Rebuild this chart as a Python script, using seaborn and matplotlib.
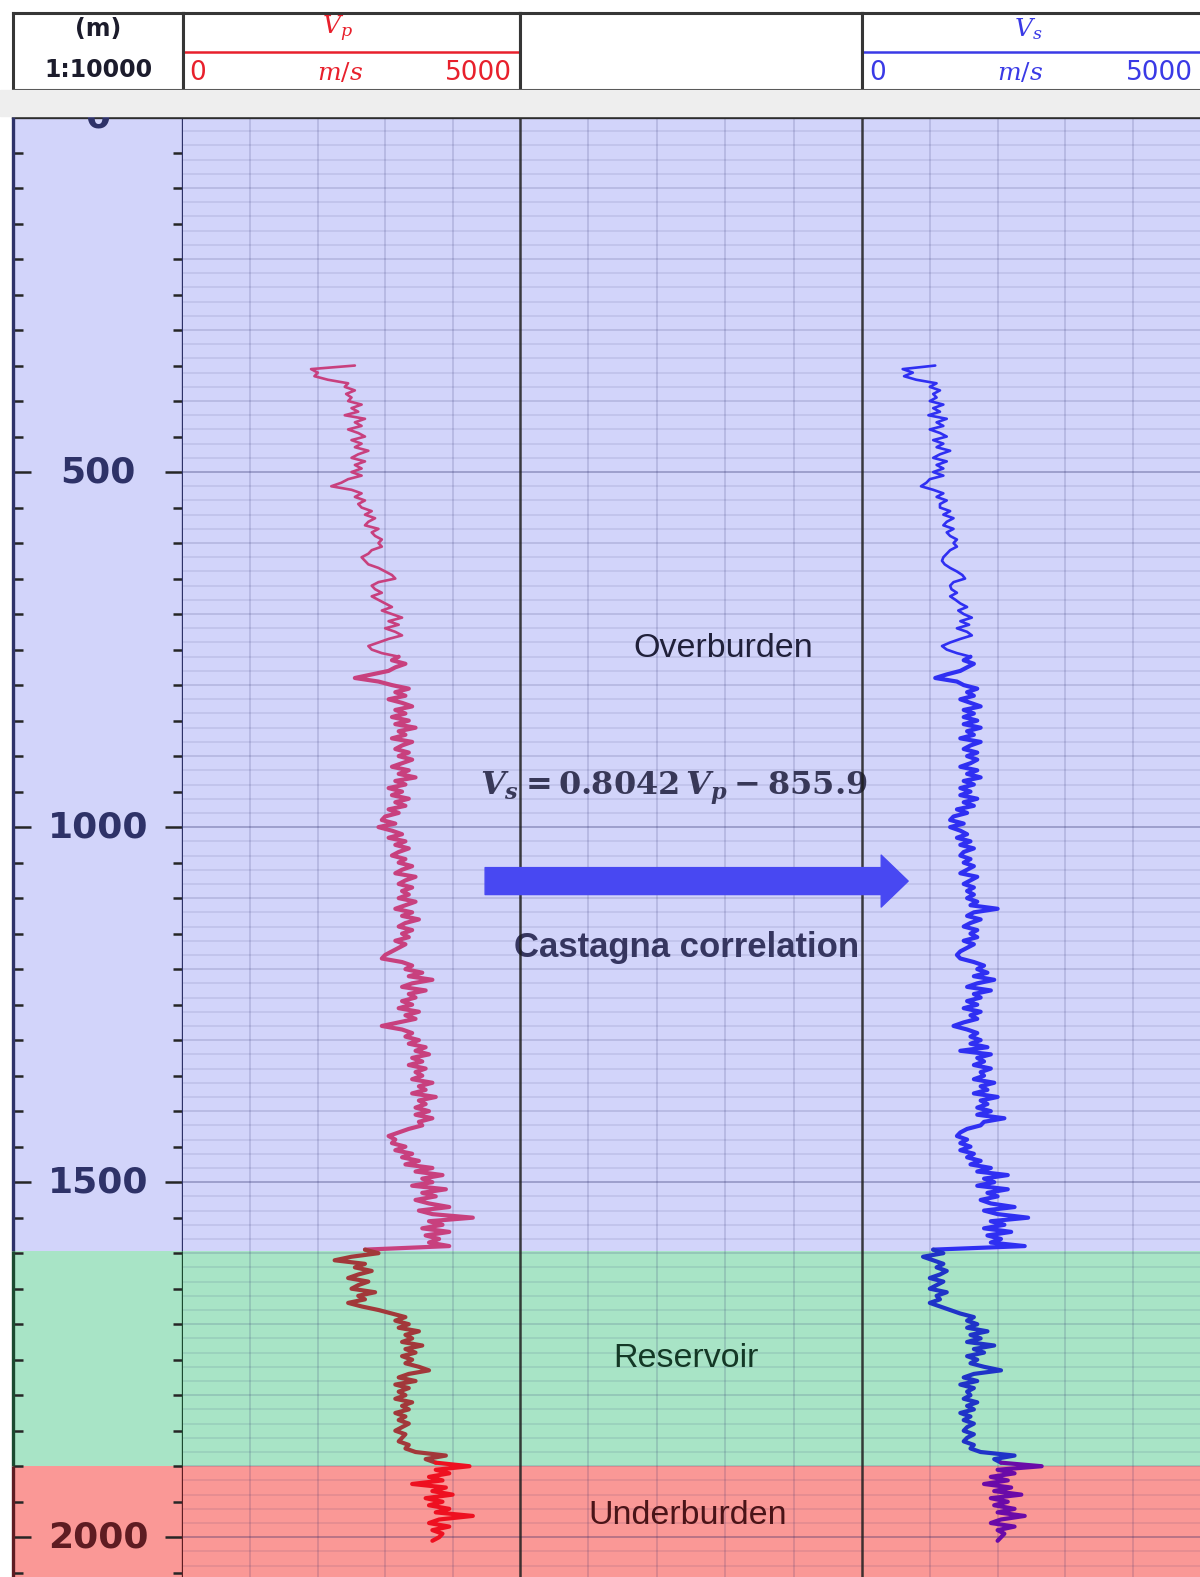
import numpy as np
import pandas as pd
import matplotlib.pyplot as plt
import seaborn as sns

sns.set_style("white")
plt.rcParams["font.family"] = ["DejaVu Sans"]
plt.rcParams["mathtext.fontset"] = "custom"
plt.rcParams["mathtext.rm"] = "DejaVu Serif:bold"
plt.rcParams["mathtext.it"] = "DejaVu Serif:italic:bold"
plt.rcParams["mathtext.bf"] = "DejaVu Serif:bold"

# Vp log (m/s), one sample every 5 m starting at 350 m
vp = [
    2550, 1900, 2000, 1950, 2150, 2450, 2400, 2550, 2420, 2500,
    2450, 2650, 2500, 2600, 2400, 2700, 2550, 2650, 2450, 2600,
    2700, 2500, 2650, 2550, 2750, 2600, 2500, 2700, 2550, 2650,
    2500, 2650, 2450, 2350, 2200, 2500, 2650, 2550, 2700, 2600,
    2650, 2800, 2700, 2850, 2750, 2700, 2900, 2800, 2850, 2950,
    2900, 2950, 2800, 2750, 2650, 2700, 2750, 2900, 3000, 3100,
    3150, 2900, 2800, 2850, 2950, 2800, 2900, 3000, 3100, 2950,
    3100, 3250, 3050, 3200, 3000, 3150, 3250, 3050, 2900, 2750,
    2800, 2950, 3200, 3100, 3300, 3150, 3050, 2800, 2550, 2900,
    3100, 3350, 3150, 3300, 3050, 3250, 3400, 3150, 3300, 3100,
    3350, 3150, 3450, 3200, 3300, 3100, 3400, 3250, 3150, 3350,
    3200, 3400, 3250, 3100, 3350, 3200, 3450, 3150, 3300, 3050,
    3250, 3100, 3350, 3150, 3300, 3050, 3200, 3000, 2950, 3150,
    2900, 3100, 3250, 3050, 3300, 3150, 3350, 3200, 3100, 3300,
    3200, 3400, 3250, 3150, 3450, 3300, 3200, 3400, 3250, 3350,
    3200, 3450, 3300, 3150, 3400, 3250, 3500, 3300, 3200, 3400,
    3250, 3350, 3150, 3300, 3200, 3100, 3000, 2950, 3250, 3400,
    3300, 3550, 3350, 3700, 3400, 3250, 3600, 3350, 3450, 3250,
    3400, 3200, 3500, 3300, 3450, 3200, 2950, 3250, 3400, 3300,
    3500, 3350, 3600, 3450, 3650, 3400, 3550, 3350, 3600, 3450,
    3550, 3400, 3700, 3500, 3600, 3400, 3750, 3500, 3600, 3450,
    3650, 3450, 3700, 3500, 3550, 3350, 3200, 3050, 3150, 3100,
    3300, 3150, 3400, 3250, 3500, 3300, 3700, 3450, 3850, 3550,
    3700, 3400, 3900, 3550, 3750, 3450, 3650, 3950, 3500, 3700,
    4300, 3650, 3850, 3550, 3950, 3600, 3800, 3650, 3950, 2700,
    2900, 2500, 2250, 2700, 2550, 2800, 2600, 2450, 2750, 2600,
    2500, 2850, 2600, 2700, 2450, 2650, 2900, 3100, 3300, 3150,
    3350, 3200, 3500, 3300, 3400, 3250, 3550, 3300, 3450, 3250,
    3400, 3300, 3500, 3650, 3350, 3200, 3450, 3150, 3350, 3200,
    3300, 3150, 3400, 3250, 3350, 3150, 3300, 3200, 3350, 3250,
    3150, 3300, 3250, 3200, 3350, 3300, 3450, 3900, 3600, 3750,
    4250, 3750, 3950, 3650, 3850, 3400, 3900, 3700, 4000, 3600,
    3850, 3650, 3950, 3750, 4300, 3800, 3650, 3950, 3700, 3850,
    3800, 3700,
]

# Vs log (m/s), same depth samples
vs = [
    1080, 600, 750, 620, 800, 1100, 1000, 1150, 1050, 1100,
    1000, 1200, 1050, 1150, 980, 1250, 1100, 1200, 1000, 1150,
    1250, 1050, 1200, 1100, 1300, 1150, 1050, 1250, 1100, 1200,
    1050, 1200, 1000, 950, 870, 1050, 1200, 1100, 1250, 1150,
    1150, 1300, 1200, 1350, 1250, 1200, 1350, 1250, 1300, 1400,
    1350, 1400, 1300, 1250, 1200, 1180, 1220, 1300, 1400, 1480,
    1520, 1350, 1300, 1320, 1400, 1300, 1380, 1450, 1550, 1420,
    1500, 1620, 1450, 1580, 1400, 1550, 1620, 1450, 1300, 1180,
    1250, 1400, 1600, 1500, 1650, 1550, 1450, 1250, 1080, 1400,
    1500, 1700, 1550, 1650, 1450, 1600, 1750, 1500, 1650, 1500,
    1700, 1500, 1750, 1550, 1650, 1450, 1750, 1600, 1500, 1700,
    1550, 1700, 1600, 1450, 1700, 1550, 1750, 1500, 1650, 1450,
    1600, 1450, 1700, 1500, 1650, 1400, 1550, 1350, 1300, 1500,
    1300, 1450, 1550, 1400, 1600, 1450, 1650, 1500, 1450, 1600,
    1500, 1650, 1550, 1450, 1700, 1600, 1500, 1650, 1550, 1650,
    1550, 1700, 1600, 2000, 1650, 1550, 1750, 1600, 1500, 1700,
    1600, 1700, 1500, 1650, 1550, 1450, 1400, 1450, 1650, 1800,
    1700, 1850, 1650, 1950, 1700, 1550, 1900, 1650, 1750, 1550,
    1700, 1500, 1750, 1600, 1700, 1500, 1350, 1550, 1700, 1600,
    1750, 1600, 1850, 1450, 1900, 1700, 1800, 1650, 1900, 1750,
    1800, 1650, 1950, 1750, 1850, 1650, 2000, 1750, 1850, 1700,
    1900, 1700, 2100, 1800, 1750, 1550, 1450, 1400, 1550, 1450,
    1600, 1450, 1650, 1550, 1750, 1600, 1900, 1700, 2150, 1800,
    1950, 1700, 2150, 1850, 2000, 1750, 1900, 2250, 1800, 2000,
    2450, 1900, 2100, 1800, 2200, 1850, 2050, 1900, 2400, 1050,
    1200, 900, 1050, 1200, 1100, 1250, 1150, 1000, 1200, 1100,
    1000, 1250, 1100, 1150, 1000, 1150, 1300, 1450, 1650, 1550,
    1700, 1550, 1850, 1600, 1750, 1550, 1950, 1650, 1800, 1550,
    1700, 1600, 1800, 2050, 1650, 1500, 1700, 1450, 1650, 1550,
    1600, 1500, 1700, 1550, 1650, 1450, 1600, 1500, 1650, 1550,
    1500, 1650, 1550, 1500, 1650, 1600, 1750, 2250, 1950, 2050,
    2650, 2000, 2250, 1900, 2150, 1800, 2200, 1950, 2350, 1900,
    2150, 1950, 2250, 2000, 2400, 2050, 1900, 2250, 2000, 2100,
    2050, 2000,
]
depth = np.arange(350, 350 + 5 * len(vp), 5)

zones = ["Overburden", "Reservoir", "Underburden"]
zone_top = [0, 1597, 1900]
zone_base = [1597, 1900, 2060]
zone_label_depth = [749, 1749, 1970]
zone_label_x = [0.594, 0.485, 0.49]
zone_fill = ["#d2d4fa", "#a8e4c6", "#fa9896"]
zone_ink = ["#2e3268", "#1b4a30", "#5e1c22"]
zone_text = ["#20203a", "#143826", "#4a1418"]
vp_colors = ["#c8407e", "#a2383a", "#ee1020"]
vs_colors = ["#2f2ff2", "#1f33c8", "#6a0aa8"]

depth_labels = [0, 500, 1000, 1500, 2000]
vel_max = 5000
y_bottom = 2056

W, H = 1200, 1577
fig = plt.figure(figsize=(W / 100, H / 100), dpi=100)
fig.patch.set_facecolor("white")


def px_axes(x0, x1, y0, y1):
    return fig.add_axes([x0 / W, 1 - y1 / H, (x1 - x0) / W, (y1 - y0) / H])


def ink_at(d):
    for top, base, c in zip(zone_top, zone_base, zone_ink):
        if top <= d < base:
            return c
    return zone_ink[-1]


fig.patches.append(plt.Rectangle((0, 1 - 116 / H), 1, 26 / H, transform=fig.transFigure,
                                 color="#eeeeee", zorder=0))

# ---------- header ----------
hd = px_axes(13, 183, 13, 90)
hvp = px_axes(183, 520, 13, 90)
hmid = px_axes(520, 862, 13, 90)
hvs = px_axes(862, 1201, 13, 90)
for h in [hd, hvp, hmid, hvs]:
    h.set_xlim(0, 1)
    h.set_ylim(0, 1)
    h.set_xticks([])
    h.set_yticks([])
    h.set_facecolor("white")
    for s in h.spines.values():
        s.set_color("#363636")
        s.set_linewidth(2.2)

hd.text(0.5, 0.79, "(m)", ha="center", va="center", fontsize=17, fontweight="bold", color="#1c1c2c")
hd.text(0.5, 0.26, "1:10000", ha="center", va="center", fontsize=17, fontweight="bold", color="#1c1c2c")

for h, name, col, xn in [(hvp, "p", "#e8202c", 0.457), (hvs, "s", "#3a3ae6", 0.49)]:
    h.axhline(0.49, color=col, lw=1.8)
    h.text(xn, 0.79, rf"$V_{name}$", ha="center", va="center", fontsize=18, color=col,
           math_fontfamily="dejavuserif")
    h.text(0.02, 0.22, "0", ha="left", va="center", fontsize=19, color=col)
    h.text(0.466, 0.22, r"$m/s$", ha="center", va="center", fontsize=18, color=col,
           math_fontfamily="dejavuserif")
    h.text(0.975, 0.22, "5000", ha="right", va="center", fontsize=19, color=col)


# ---------- body ----------
def zone_fills(ax):
    for top, base, c in zip(zone_top, zone_base, zone_fill):
        ax.axhspan(top, base, color=c, lw=0, zorder=0)


def setup_track(ax, xmax):
    ax.set_xlim(0, xmax)
    ax.set_ylim(y_bottom, 0)
    zone_fills(ax)
    ax.hlines(np.arange(20, y_bottom, 20), 0, xmax, colors="#1c1c60", alpha=0.10, lw=1.2, zorder=1)
    ax.hlines(np.arange(100, y_bottom, 100), 0, xmax, colors="#1c1c60", alpha=0.06, lw=1.2, zorder=1)
    ax.hlines(np.arange(500, y_bottom, 500), 0, xmax, colors="#1c1c60", alpha=0.20, lw=1.2, zorder=1)
    ax.vlines(np.arange(1, 5) * xmax / 5, 0, y_bottom, colors="#1c1c60", alpha=0.17, lw=1.2, zorder=1)
    ax.set_xticks([])
    ax.set_yticks([])
    ax.set_xlabel("")
    ax.set_ylabel("")
    for s in ax.spines.values():
        s.set_visible(False)
    ax.spines["top"].set_visible(True)
    ax.spines["top"].set_color("#2d2d2d")
    ax.spines["top"].set_linewidth(2.4)


# depth track
axd = px_axes(13, 183, 117, 1577)
axd.set_xlim(0, 1)
axd.set_ylim(y_bottom, 0)
zone_fills(axd)
for s in axd.spines.values():
    s.set_visible(False)
axd.spines["top"].set_visible(True)
axd.spines["top"].set_color("#2d2d2d")
axd.spines["top"].set_linewidth(2.4)
axd.set_xticks([])
axd.set_yticks(depth_labels)
axd.set_yticks(np.arange(50, y_bottom, 50), minor=True)
axd.tick_params(axis="y", which="both", direction="in", left=True, right=True,
                labelleft=False, labelright=False, width=1.8)
axd.tick_params(axis="y", which="major", length=13)
axd.tick_params(axis="y", which="minor", length=7)
for t, loc in zip(axd.yaxis.get_major_ticks(), axd.yaxis.get_majorticklocs()):
    t.tick1line.set_color(ink_at(loc))
    t.tick2line.set_color(ink_at(loc))
minor_locs = axd.yaxis.get_minorticklocs()
for t, loc in zip(axd.yaxis.get_minor_ticks(len(minor_locs)), minor_locs):
    t.tick1line.set_color(ink_at(loc))
    t.tick2line.set_color(ink_at(loc))
for top, base, c in zip(zone_top, zone_base, zone_ink):
    axd.vlines([0, 1], top, min(base, y_bottom), colors=c, lw=2.4, clip_on=False, zorder=3)
for d in depth_labels:
    axd.text(0.5, d, f"{d}", ha="center", va="center", fontsize=26, fontweight="bold",
             color=ink_at(d), clip_on=True)

logs = pd.DataFrame({"depth": depth, "vp": vp, "vs": vs})

# the shallow part of the log is drawn thinner, the deeper part is a dense, noisy band
thin_base = 760
axvp = px_axes(183, 520, 117, 1577)
axvs = px_axes(862, 1201, 117, 1577)
for ax, col, colors in [(axvp, "vp", vp_colors), (axvs, "vs", vs_colors)]:
    for top, base, c in zip(zone_top, zone_base, colors):
        seg = logs[(logs["depth"] >= top - 5) & (logs["depth"] < base)]
        shallow = seg[seg["depth"] <= thin_base]
        deep = seg[seg["depth"] >= thin_base]
        if len(shallow) > 1:
            sns.lineplot(data=shallow, x=col, y="depth", orient="y", sort=False, estimator=None,
                         color=c, lw=1.9, ax=ax, legend=False, zorder=2)
        sns.lineplot(data=deep, x=col, y="depth", orient="y", sort=False, estimator=None,
                     color=c, lw=3.0, ax=ax, legend=False, zorder=2)
    setup_track(ax, vel_max)

# middle track with annotations
axm = px_axes(520, 862, 117, 1577)
setup_track(axm, 5)
for side in ["left", "right"]:
    axm.spines[side].set_visible(True)
    axm.spines[side].set_color("#1e1e1e")
    axm.spines[side].set_alpha(0.85)
    axm.spines[side].set_linewidth(1.8)
    axm.spines[side].set_zorder(2.5)

tr = axm.get_yaxis_transform()
for name, d, xf, c in zip(zones, zone_label_depth, zone_label_x, zone_text):
    axm.text(xf, d, name, transform=tr, ha="center", va="center", fontsize=24.5,
             family="Liberation Sans", color=c, zorder=2, clip_on=False)

axm.text(0.45, 946, r"$V_s = 0.8042\,V_p - 855.9$", transform=tr, ha="center", va="center",
         fontsize=23, color="#383858", math_fontfamily="custom", zorder=2, clip_on=False)
axm.text(0.488, 1169, "Castagna correlation", transform=tr, ha="center", va="center",
         fontsize=25, fontweight="bold", family="Liberation Sans", color="#363660",
         zorder=2, clip_on=False)

arrow = axm.annotate("", xy=(1.135, 1076), xytext=(-0.102, 1076), xycoords=tr, textcoords=tr,
                     arrowprops=dict(arrowstyle="simple,head_length=0.97,head_width=1.87,tail_width=0.97",
                                     color="#4848f2", shrinkA=0, shrinkB=0, mutation_scale=20),
                     annotation_clip=False, zorder=3)
arrow.arrow_patch.set_clip_on(False)

fig.savefig("out.png", dpi=100)
